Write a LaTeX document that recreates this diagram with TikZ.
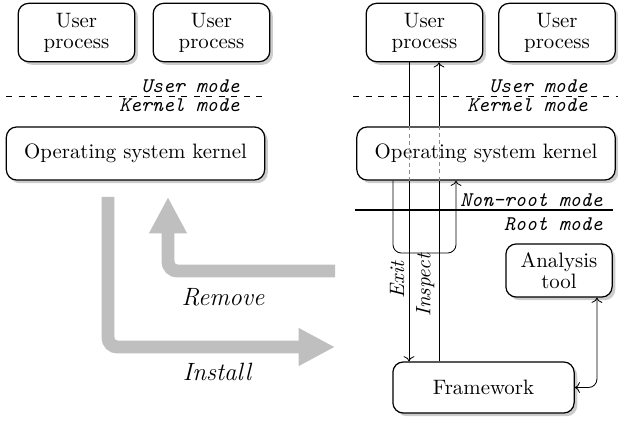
\documentclass[tikz,border=0pt]{standalone}
\usepackage{tikz}
\usetikzlibrary{arrows.meta,shadows,positioning}

\begin{document}
\begin{tikzpicture}[
x=0.48pt, y=-0.48pt,
  box/.style = {rectangle, draw, semithick, rounded corners=5pt,% all boxes
                fill=white, align=center, inner sep=2pt,
                drop shadow={shadow xshift=1.5pt, shadow yshift=-1.5pt,
                             opacity=0.4}},
 proc/.style = {box, minimum width=56pt, minimum height=28pt},
 kern/.style = {box, minimum width=124pt, minimum height=25.5pt},
 mode/.style = {font=\ttfamily\itshape, inner sep=0pt, anchor=base east},
  lbl/.style = {font=\itshape, rotate=90, anchor=south, inner sep=2pt},
faint/.style = {draw=black!45, dash pattern=on 2pt off 1.5pt},% line behind a box
 flow/.style = {line width=6.2pt, draw=black!25, rounded corners=4.5pt,
                -{Triangle[length=17.5pt, width=17pt]}},
  flowtxt/.style = {font=\large\itshape},
                    ]
\useasboundingbox (0,0) rectangle (618,422);
% before
\node[proc] (up1) at (76.5,32.5)  {User\\[-2pt]process};
\node[proc] (up2) at (211.5,32.5) {User\\[-2pt]process};
\node[kern] (osl) at (135.5,153.5) {Operating system kernel};
\draw[dashed] (6,96) -- (265,96);
\node[mode] (uml) at (240,93)  {User mode};
\node[mode] (kml) at (240,112) {Kernel mode};
% after
\node[proc] (up3) at (424.5,32.5) {User\\[-2pt]process};
\node[proc] (up4) at (557,32.5)   {User\\[-2pt]process};
\node[kern] (osr) at (486,153.5)  {Operating system kernel};
\node[box, minimum width=87pt, minimum height=24.5pt] (fw) at (483.5,387.5) {Framework};
\node[box, minimum width=51pt, minimum height=25.5pt] (tool) at (559,270.5) {Analysis\\[-2pt]tool};
\draw[dashed] (353,96) -- (618,96);
\node[mode] (umr) at (588,93)  {User mode};
\node[mode] (kmr) at (588,112) {Kernel mode};
\draw[thick] (355,210) -- (613,210);
\node[mode] (nrm) at (603,206) {Non-root mode};
\node[mode] (rm)  at (603,230) {Root mode};
% traps and inspection
\coordinate (exit) at (409,0);
\coordinate (insp) at (439,0);
\coordinate (ul) at (393,253);
\coordinate (ur) at (456,253);
\draw (up3.south -| exit) -- (osr.north -| exit);
\draw[faint] (osr.north -| exit) -- (osr.south -| exit);
\draw[->] (osr.south -| exit) -- node[lbl, pos=0.55] {Exit} (fw.north -| exit);
\draw (fw.north -| insp) -- node[lbl, pos=0.42] {Inspect} (osr.south -| insp);
\draw[faint] (osr.south -| insp) -- (osr.north -| insp);
\draw[->] (osr.north -| insp) -- (up3.south -| insp);
\draw[->, rounded corners=4pt] (osr.south -| ul) -- (ul) -- (ur) -- (osr.south -| ur);
\draw[<->, rounded corners=4pt] ([xshift=18.2pt]tool.south) |- (fw.east);
% install / remove
\coordinate (inA) at (108,197);
\coordinate (inB) at (335,347);
\coordinate (rmA) at (335,271);
\coordinate (rmB) at (168,197);
\draw[flow] (inA) |- (inB);
\draw[flow] (rmA) -| (rmB);
\node[flowtxt] (install) at (217,372) {Install};
\node[flowtxt] (remove)  at (223,297) {Remove};
\end{tikzpicture}
\end{document}
